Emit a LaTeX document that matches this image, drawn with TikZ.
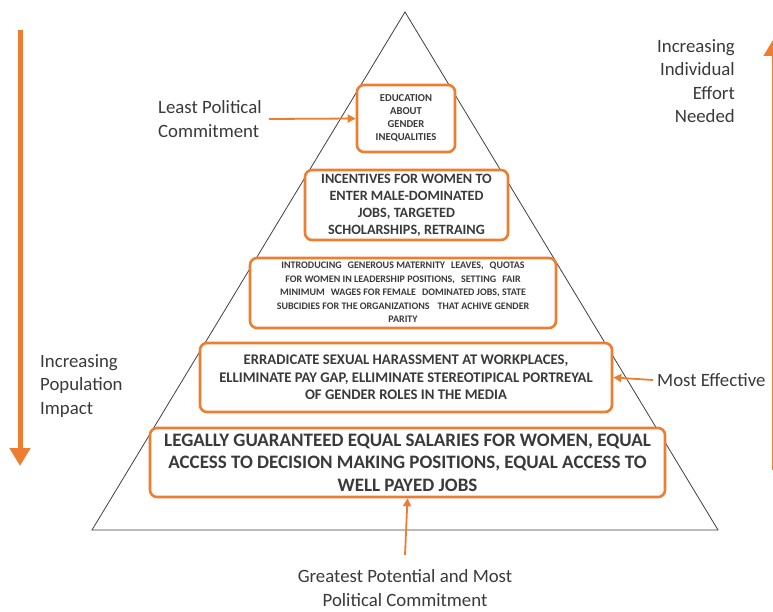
\documentclass[tikz,border=0pt]{standalone}
\usepackage{fontspec}
\setmainfont{Carlito}
\usetikzlibrary{arrows.meta}
\definecolor{org}{HTML}{ED7D31}
\definecolor{txt}{HTML}{3A3A3A}
\begin{document}
\begin{tikzpicture}[x=1pt,y=-1pt,
  box/.style={draw=org, line width=2.6pt, rounded corners=7pt, fill=white, inner sep=0pt, align=center, text=txt},
  lbl/.style={text=txt, inner sep=0pt, font=\fontsize{18.8}{23.5}\selectfont},
  arr/.style={draw=org, line width=1.8pt, -{Triangle[length=8pt,width=8pt]}},
  bigarr/.style={draw=org, line width=5pt, -{Triangle[length=18pt,width=20pt]}},
  tri/.style={draw=black!75, line width=0.8pt}]
\useasboundingbox (0,0) rectangle (773,612);
\fill[white] (0,0) rectangle (773,612);
\coordinate (apex) at (405,12);
\coordinate (bl) at (92,530);
\coordinate (br) at (718,530);
\draw[tri] (apex) -- (bl) -- (br) -- cycle;

\node[box, minimum width=98pt, minimum height=67pt, font=\fontsize{10.6}{13}\selectfont\bfseries] (b1) at (406,118.5) {EDUCATION\\ABOUT\\GENDER\\INEQUALITIES};
\node[box, minimum width=203pt, minimum height=70pt, font=\fontsize{14.2}{17}\selectfont\bfseries] (b2) at (406.5,205) {INCENTIVES FOR WOMEN TO\\ENTER MALE-DOMINATED\\JOBS, TARGETED\\SCHOLARSHIPS, RETRAING};
\node[box, minimum width=306pt, minimum height=70pt, font=\fontsize{10}{13.5}\selectfont\bfseries] (b3) at (403,293) {\begin{tabular}{@{}c@{}}INTRODUCING\hspace{6pt}GENEROUS MATERNITY\hspace{6pt}LEAVES,\hspace{6pt}QUOTAS\\FOR WOMEN IN LEADERSHIP POSITIONS,\hspace{6pt}SETTING\hspace{6pt}FAIR\\MINIMUM\hspace{6pt}WAGES FOR FEMALE\hspace{6pt}DOMINATED JOBS, STATE\\SUBCIDIES FOR THE ORGANIZATIONS\hspace{8pt}THAT ACHIVE GENDER\\PARITY\end{tabular}};
\node[box, minimum width=412pt, minimum height=69pt, font=\fontsize{14.7}{17.5}\selectfont\bfseries] (b4) at (406,377.5) {ERRADICATE SEXUAL HARASSMENT AT WORKPLACES,\\ELLIMINATE PAY GAP, ELLIMINATE STEREOTIPICAL PORTREYAL\\OF GENDER ROLES IN THE MEDIA};
\node[box, minimum width=515pt, minimum height=69pt, font=\fontsize{19}{22.5}\selectfont\bfseries] (b5) at (407.5,462.5) {LEGALLY GUARANTEED EQUAL SALARIES FOR WOMEN, EQUAL\\ACCESS TO DECISION MAKING POSITIONS, EQUAL ACCESS TO\\WELL PAYED JOBS};

\node[lbl, align=left, anchor=west] (lpc) at (158,119) {Least Political\\Commitment};
\draw[arr] ([xshift=7pt]lpc.east) -- (b1.west);

\node[lbl, anchor=west] (me) at (657,380) {Most Effective};
\draw[arr] ([xshift=-4pt]me.west) -- (b4.east);

\node[lbl, align=center] (gp) at (405,588) {Greatest Potential and Most\\Political Commitment};
\coordinate (gpa) at (405,555);
\draw[arr] (gpa) -- (b5.south);

\node[lbl, align=right, anchor=north east] (iie) at (735,39) {Increasing\\Individual\\Effort\\Needed};
\node[lbl, align=left, anchor=north west] (ipi) at (40,354) {Increasing\\Population\\Impact};

\coordinate (la1) at (20,30);
\coordinate (la2) at (20,466);
\draw[bigarr] (la1) -- (la2);
\coordinate (ra1) at (774,470);
\coordinate (ra2) at (774,38);
\draw[bigarr] (ra1) -- (ra2);
\end{tikzpicture}
\end{document}
